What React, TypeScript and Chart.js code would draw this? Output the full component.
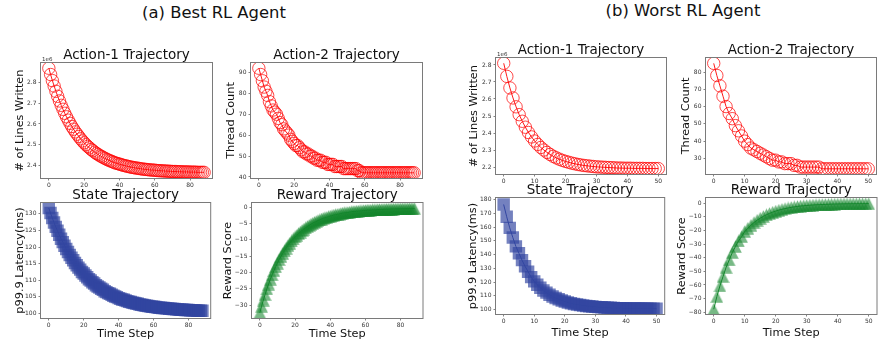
import React, { useEffect, useRef } from "react";
import { Chart, registerables } from "chart.js";

Chart.register(...registerables);

const FONT = "'DejaVu Sans', Verdana, sans-serif";

// ---------------- data ----------------
// (a) Best RL agent, time steps 0..88
const bestLinesWritten = [
  2.866, 2.836, 2.807, 2.781, 2.756, 2.732, 2.71, 2.689, 2.67, 2.651,
  2.634, 2.618, 2.603, 2.588, 2.575, 2.562, 2.551, 2.54, 2.529, 2.519,
  2.51, 2.501, 2.493, 2.486, 2.478, 2.472, 2.465, 2.459, 2.454, 2.448,
  2.444, 2.439, 2.435, 2.43, 2.427, 2.423, 2.42, 2.416, 2.413, 2.411,
  2.408, 2.406, 2.403, 2.401, 2.399, 2.397, 2.395, 2.393, 2.392, 2.39,
  2.389, 2.388, 2.386, 2.385, 2.384, 2.383, 2.382, 2.381, 2.38, 2.38,
  2.379, 2.378, 2.377, 2.377, 2.376, 2.376, 2.375, 2.375, 2.374, 2.374,
  2.373, 2.373, 2.373, 2.372, 2.372, 2.372, 2.371, 2.371, 2.371, 2.371,
  2.37, 2.37, 2.37, 2.37, 2.369, 2.369, 2.369, 2.369, 2.369,
];
const bestThreadCount = [
  92, 89, 86, 83, 81, 79, 76, 74, 72, 71,
  70, 68, 66, 65, 63, 62, 61, 60, 58, 57,
  56, 55, 55, 54, 53, 52, 52, 51, 51, 50,
  50, 49, 49, 48, 48, 48, 47, 47, 47, 46,
  46, 46, 46, 45, 45, 45, 45, 45, 44, 44,
  44, 44, 44, 44, 44, 44, 43, 43, 42, 42,
  42, 42, 42, 42, 42, 42, 42, 42, 42, 42,
  42, 42, 42, 42, 42, 42, 42, 42, 42, 42,
  42, 42, 42, 42, 42, 42, 42, 42, 42,
];
const bestLatency = [
  131.8, 130.3, 128.8, 127.4, 126.1, 124.9, 123.7, 122.5, 121.5, 120.4,
  119.4, 118.5, 117.6, 116.8, 116.0, 115.2, 114.5, 113.8, 113.2, 112.5,
  112.0, 111.4, 110.9, 110.3, 109.9, 109.4, 109.0, 108.5, 108.1, 107.8,
  107.4, 107.1, 106.7, 106.4, 106.1, 105.9, 105.6, 105.3, 105.1, 104.9,
  104.6, 104.4, 104.2, 104.1, 103.9, 103.7, 103.5, 103.4, 103.2, 103.1,
  103.0, 102.9, 102.7, 102.6, 102.5, 102.4, 102.3, 102.2, 102.1, 102.0,
  102.0, 101.9, 101.8, 101.7, 101.7, 101.6, 101.6, 101.5, 101.5, 101.4,
  101.4, 101.3, 101.3, 101.2, 101.2, 101.1, 101.1, 101.1, 101.0, 101.0,
  101.0, 100.9, 100.9, 100.9, 100.9, 100.8, 100.8, 100.8, 100.8,
];
const bestReward = [
  -32.3, -30.3, -28.4, -26.7, -25.0, -23.5, -22.0, -20.7, -19.4, -18.2,
  -17.1, -16.0, -15.1, -14.1, -13.3, -12.5, -11.7, -11.0, -10.3, -9.7,
  -9.1, -8.6, -8.0, -7.6, -7.1, -6.7, -6.3, -5.9, -5.6, -5.2,
  -4.9, -4.6, -4.4, -4.1, -3.9, -3.6, -3.4, -3.2, -3.1, -2.9,
  -2.7, -2.6, -2.4, -2.3, -2.2, -2.1, -1.9, -1.8, -1.7, -1.7,
  -1.6, -1.5, -1.4, -1.3, -1.3, -1.2, -1.2, -1.1, -1.1, -1.0,
  -1.0, -0.9, -0.9, -0.9, -0.8, -0.8, -0.8, -0.7, -0.7, -0.7,
  -0.65, -0.63, -0.61, -0.59, -0.57, -0.55, -0.54, -0.52, -0.51, -0.5,
  -0.48, -0.47, -0.46, -0.45, -0.44, -0.43, -0.42, -0.42, -0.41,
];

// (b) Worst RL agent, time steps 0..50
const worstLinesWritten = [
  2.81, 2.733, 2.665, 2.606, 2.554, 2.508, 2.469, 2.434, 2.403, 2.377,
  2.353, 2.333, 2.315, 2.3, 2.286, 2.274, 2.263, 2.254, 2.246, 2.239,
  2.233, 2.228, 2.223, 2.219, 2.215, 2.212, 2.209, 2.207, 2.205, 2.203,
  2.201, 2.2, 2.199, 2.198, 2.197, 2.196, 2.195, 2.194, 2.194, 2.193,
  2.193, 2.193, 2.192, 2.192, 2.192, 2.192, 2.191, 2.191, 2.191, 2.191, 2.191,
];
const worstThreadCount = [
  85, 78, 72, 66, 60, 56, 53, 49, 46, 43,
  40, 38, 36, 35, 34, 33, 32, 31, 30, 29,
  29, 28, 28, 27, 27, 27, 26, 26, 25, 25,
  25, 25, 25, 25, 25, 24, 24, 24, 24, 24,
  24, 24, 24, 24, 24, 24, 24, 24, 24, 24, 24,
];
const worstLatency = [
  176.6, 167.6, 159.5, 152.5, 146.0, 141.0, 136.0, 131.5, 127.5, 123.6,
  120.5, 118.0, 115.8, 113.9, 112.3, 110.8, 109.5, 108.4, 107.4, 106.5,
  105.8, 105.1, 104.5, 104.0, 103.6, 103.2, 102.9, 102.6, 102.3, 102.1,
  101.9, 101.7, 101.6, 101.4, 101.3, 101.2, 101.1, 101.0, 101.0, 100.9,
  100.9, 100.8, 100.8, 100.7, 100.7, 100.7, 100.7, 100.6, 100.6, 100.6, 100.6,
];
const worstReward = [
  -77.8, -68.5, -60.7, -53.8, -47.0, -41.6, -36.2, -31.8, -27.7, -24.5,
  -20.8, -18.4, -16.2, -14.2, -12.5, -11.0, -9.7, -8.5, -7.5, -6.6,
  -5.8, -5.1, -4.5, -4.0, -3.5, -3.1, -2.7, -2.4, -2.1, -1.9,
  -1.7, -1.5, -1.35, -1.2, -1.1, -1.0, -0.9, -0.8, -0.72, -0.66,
  -0.6, -0.55, -0.5, -0.47, -0.44, -0.41, -0.39, -0.37, -0.35, -0.34, -0.33,
];

// tick labels
const bestXTicks = [0, 20, 40, 60, 80];
const worstXTicks = [0, 10, 20, 30, 40, 50];
const bestLinesTicks = [2.4, 2.5, 2.6, 2.7, 2.8];
const bestThreadTicks = [40, 50, 60, 70, 80, 90];
const bestLatencyTicks = [100, 105, 110, 115, 120, 125, 130];
const bestRewardTicks = [-30, -25, -20, -15, -10, -5, 0];
const worstLinesTicks = [2.2, 2.3, 2.4, 2.5, 2.6, 2.7, 2.8];
const worstThreadTicks = [30, 40, 50, 60, 70, 80];
const worstLatencyTicks = [100, 110, 120, 130, 140, 150, 160, 170, 180];
const worstRewardTicks = [-80, -70, -60, -50, -40, -30, -20, -10, 0];

// ---------------- layout / style ----------------
type Kind = "circle" | "square" | "triangle";
interface PanelSpec {
  title: string;
  yTitle: string;
  xTitle?: string;
  values: number[];
  kind: Kind;
  yMin: number;
  yMax: number;
  yTicks: number[];
  decimals: number;
  xMin: number;
  xMax: number;
  xTicks: number[];
  offsetText?: string;
  L: number;
  T: number;
  R: number;
  B: number;
  yW: number;
  xH: number;
}

const PAD_TOP = 20;
const PAD_RIGHT = 2;

const panels: PanelSpec[] = [
  { title: "Action-1 Trajectory", yTitle: "# of Lines Written", values: bestLinesWritten, kind: "circle",
    yMin: 2.342, yMax: 2.891, yTicks: bestLinesTicks, decimals: 1, xMin: -4.45, xMax: 92.45, xTicks: bestXTicks,
    offsetText: "1e6", L: 41, T: 63, R: 217, B: 178, yW: 28, xH: 10 },
  { title: "Action-2 Trajectory", yTitle: "Thread Count", values: bestThreadCount, kind: "circle",
    yMin: 39.5, yMax: 94.5, yTicks: bestThreadTicks, decimals: 0, xMin: -4.45, xMax: 92.45, xTicks: bestXTicks,
    L: 251, T: 63, R: 427, B: 178, yW: 27, xH: 10 },
  { title: "State Trajectory", yTitle: "p99.9 Latency(ms)", xTitle: "Time Step", values: bestLatency, kind: "square",
    yMin: 98.6, yMax: 133.3, yTicks: bestLatencyTicks, decimals: 0, xMin: -4.45, xMax: 92.45, xTicks: bestXTicks,
    L: 41, T: 203, R: 217, B: 318, yW: 28, xH: 23 },
  { title: "Reward Trajectory", yTitle: "Reward Score", xTitle: "Time Step", values: bestReward, kind: "triangle",
    yMin: -33.9, yMax: 1.3, yTicks: bestRewardTicks, decimals: 0, xMin: -4.45, xMax: 92.45, xTicks: bestXTicks,
    L: 252, T: 203, R: 427, B: 318, yW: 31, xH: 23 },
  { title: "Action-1 Trajectory", yTitle: "# of Lines Written", values: worstLinesWritten, kind: "circle",
    yMin: 2.159, yMax: 2.841, yTicks: worstLinesTicks, decimals: 1, xMin: -2.5, xMax: 52.5, xTicks: worstXTicks,
    offsetText: "1e6", L: 496, T: 58, R: 671, B: 174, yW: 29, xH: 10 },
  { title: "Action-2 Trajectory", yTitle: "Thread Count", values: worstThreadCount, kind: "circle",
    yMin: 21, yMax: 88.1, yTicks: worstThreadTicks, decimals: 0, xMin: -2.5, xMax: 52.5, xTicks: worstXTicks,
    L: 706, T: 58, R: 881, B: 174, yW: 27, xH: 10 },
  { title: "State Trajectory", yTitle: "p99.9 Latency(ms)", xTitle: "Time Step", values: worstLatency, kind: "square",
    yMin: 96.7, yMax: 181.3, yTicks: worstLatencyTicks, decimals: 0, xMin: -2.5, xMax: 52.5, xTicks: worstXTicks,
    L: 496, T: 198, R: 671, B: 314, yW: 30, xH: 26 },
  { title: "Reward Trajectory", yTitle: "Reward Score", xTitle: "Time Step", values: worstReward, kind: "triangle",
    yMin: -81.3, yMax: 3.8, yTicks: worstRewardTicks, decimals: 0, xMin: -2.5, xMax: 52.5, xTicks: worstXTicks,
    L: 706, T: 198, R: 881, B: 314, yW: 31, xH: 26 },
];

const RED = "rgba(255,0,0,0.9)";
const BLUE_FILL = "rgba(50,70,160,0.68)";
const BLUE_LINE = "rgba(50,70,160,1)";
const GREEN_FILL = "rgba(20,135,45,0.58)";
const GREEN_LINE = "rgba(20,135,45,1)";

function makeTriangle(): HTMLCanvasElement {
  const c = document.createElement("canvas");
  c.width = 13;
  c.height = 13;
  const g = c.getContext("2d")!;
  g.fillStyle = GREEN_FILL;
  g.beginPath();
  g.moveTo(6.5, 0.2);
  g.lineTo(0.2, 12.8);
  g.lineTo(12.8, 12.8);
  g.closePath();
  g.fill();
  return c;
}

const minus = (s: string) => s.replace("-", "\u2212");

const framePlugin = {
  id: "frame",
  afterDatasetsDraw(chart: any) {
    const { ctx, chartArea: a } = chart;
    ctx.save();
    ctx.strokeStyle = "#7a7a7a";
    ctx.lineWidth = 1;
    ctx.strokeRect(a.left - 0.5, a.top - 0.5, a.right - a.left + 1, a.bottom - a.top + 1);
    ctx.restore();
  },
  afterDraw(chart: any, _args: any, opts: any) {
    const { ctx, chartArea: a } = chart;
    ctx.save();
    ctx.fillStyle = "#111";
    ctx.font = `13.5px ${FONT}`;
    ctx.textAlign = "center";
    ctx.textBaseline = "alphabetic";
    ctx.fillText(opts.title, (a.left + a.right) / 2, a.top - 4.5);
    if (opts.offsetText) {
      ctx.fillStyle = "#333";
      ctx.font = `5.5px ${FONT}`;
      ctx.textAlign = "left";
      ctx.fillText(opts.offsetText, a.left + 1, a.top - 2);
    }
    ctx.restore();
  },
};

function Panel({ spec }: { spec: PanelSpec }) {
  const ref = useRef<HTMLCanvasElement>(null);
  const cw = spec.R - spec.L + spec.yW + PAD_RIGHT;
  const ch = spec.B - spec.T + PAD_TOP + spec.xH;

  useEffect(() => {
    const canvas = ref.current!;
    let pointStyle: any = "circle";
    let pointRadius = 6.2;
    let pointBg = "rgba(0,0,0,0)";
    let pointBorder = RED;
    let pointBorderWidth = 0.8;
    let lineColor = RED;
    if (spec.kind === "square") {
      pointStyle = "rect";
      pointRadius = 8.8;
      pointBg = BLUE_FILL;
      pointBorder = "rgba(0,0,0,0)";
      pointBorderWidth = 0;
      lineColor = BLUE_LINE;
    } else if (spec.kind === "triangle") {
      pointStyle = makeTriangle();
      pointRadius = 6.5;
      pointBg = GREEN_FILL;
      pointBorder = "rgba(0,0,0,0)";
      pointBorderWidth = 0;
      lineColor = GREEN_LINE;
    }
    const tickFont = { family: FONT, size: 6 };
    const titleFont = { family: FONT, size: 11.3 };
    const chart = new Chart(canvas, {
      type: "line",
      data: {
        datasets: [
          {
            data: spec.values.map((y, i) => ({ x: i, y })),
            borderColor: lineColor,
            borderWidth: 1,
            pointStyle,
            pointRadius,
            pointHoverRadius: pointRadius,
            pointBackgroundColor: pointBg,
            pointBorderColor: pointBorder,
            pointBorderWidth,
            tension: 0,
            fill: false,
          },
        ],
      },
      options: {
        animation: false,
        responsive: false,
        devicePixelRatio: 1,
        events: [],
        layout: { padding: { left: 0, top: PAD_TOP, right: PAD_RIGHT, bottom: 0 } },
        plugins: {
          legend: { display: false },
          tooltip: { enabled: false },
          frame: { title: spec.title, offsetText: spec.offsetText },
        } as any,
        scales: {
          x: {
            type: "linear",
            min: spec.xMin,
            max: spec.xMax,
            afterBuildTicks: (s: any) => {
              s.ticks = spec.xTicks.map((v) => ({ value: v }));
            },
            afterFit: (s: any) => {
              s.height = spec.xH;
            },
            ticks: {
              autoSkip: false,
              maxRotation: 0,
              font: tickFont,
              color: "#333",
              padding: 1,
              callback: (v: any) => minus(String(v)),
            },
            grid: { drawOnChartArea: false, drawTicks: true, tickLength: 2.5, color: "#666", lineWidth: 0.8 },
            border: { display: false },
            title: spec.xTitle
              ? { display: true, text: spec.xTitle, font: titleFont, color: "#111", padding: 0 }
              : { display: false },
          },
          y: {
            type: "linear",
            min: spec.yMin,
            max: spec.yMax,
            afterBuildTicks: (s: any) => {
              s.ticks = spec.yTicks.map((v) => ({ value: v }));
            },
            afterFit: (s: any) => {
              s.width = spec.yW;
            },
            ticks: {
              autoSkip: false,
              font: tickFont,
              color: "#333",
              padding: 2,
              callback: (v: any) => minus(Number(v).toFixed(spec.decimals)),
            },
            grid: { drawOnChartArea: false, drawTicks: true, tickLength: 2.5, color: "#666", lineWidth: 0.8 },
            border: { display: false },
            title: { display: true, text: spec.yTitle, font: titleFont, color: "#111", padding: 0 },
          },
        },
      },
      plugins: [framePlugin],
    } as any);
    return () => chart.destroy();
  }, [spec]);

  return (
    <canvas
      ref={ref}
      width={cw}
      height={ch}
      style={{
        position: "absolute",
        left: spec.L - spec.yW,
        top: spec.T - PAD_TOP,
        width: cw,
        height: ch,
      }}
    />
  );
}

export default function App() {
  const headStyle: React.CSSProperties = {
    position: "absolute",
    fontFamily: FONT,
    fontSize: 16.4,
    lineHeight: "16.4px",
    color: "#111",
    whiteSpace: "nowrap",
    textAlign: "center",
    width: 300,
  };
  return (
    <div
      style={{
        position: "fixed",
        left: 0,
        top: 0,
        width: 880,
        height: 345,
        overflow: "hidden",
        background: "#fff",
      }}
    >
      <div style={{ ...headStyle, left: 214 - 150, top: 4.6 }}>(a) Best RL Agent</div>
      <div style={{ ...headStyle, left: 683 - 150, top: 3.1 }}>(b) Worst RL Agent</div>
      {panels.map((p, i) => (
        <Panel key={i} spec={p} />
      ))}
    </div>
  );
}
